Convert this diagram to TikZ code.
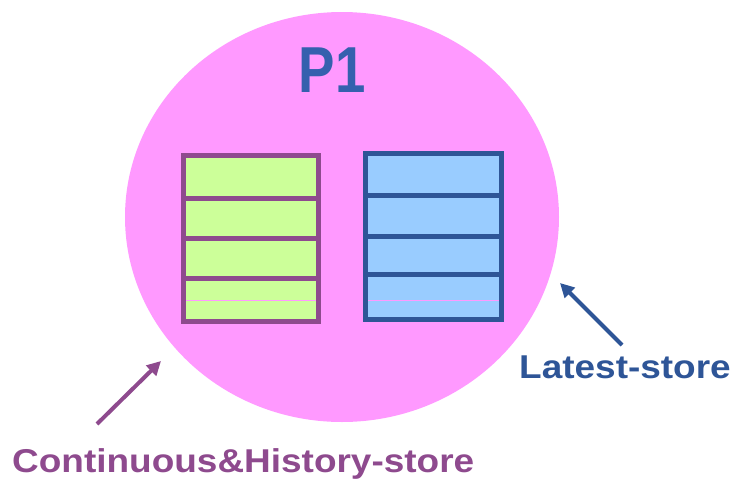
\documentclass[tikz,border=0pt]{standalone}
\usepackage{fontspec}
\setmainfont{Liberation Sans}
\usetikzlibrary{arrows.meta}
\definecolor{pinkbg}{HTML}{FF99FF}
\definecolor{greenfill}{HTML}{CCFF99}
\definecolor{purp}{HTML}{8E4A8E}
\definecolor{bluefill}{HTML}{99CCFF}
\definecolor{blueedge}{HTML}{2E5597}
\definecolor{ptext}{HTML}{3560AE}
\tikzset{
  store/.style={line width=5pt},
  lbl/.style={font=\bfseries\fontsize{33}{33}\selectfont, inner sep=0pt, anchor=base west, xscale=1.12},
  arr/.style={line width=4pt, -{Triangle[length=14pt,width=14pt]}},
}
\begin{document}
\begin{tikzpicture}[x=1pt,y=-1pt]
\useasboundingbox (0,0) rectangle (737,483);
\fill[pinkbg] (342,217) ellipse [x radius=217, y radius=205];
\node[inner sep=0pt, anchor=base, text=ptext, xscale=0.84, font=\bfseries\fontsize{65}{65}\selectfont] (p1) at (332,92.5) {P1};
% green store
\fill[greenfill] (183.5,155.8) rectangle (318,321.5);
\foreach \yy in {198.3,238,278}{\draw[purp,store] (183.5,\yy) -- (318,\yy);}
\draw[pinkbg, line width=1pt] (186,300.3) -- (315.5,300.3);
\draw[purp, store] (183.5,155.8) rectangle (318,321.5);
% blue store
\fill[bluefill] (365.5,153.2) rectangle (501,319.2);
\foreach \yy in {195,236,274}{\draw[blueedge,store] (365.5,\yy) -- (501,\yy);}
\draw[pinkbg, line width=1pt] (368,300.3) -- (498.5,300.3);
\draw[blueedge, store] (365.5,153.2) rectangle (501,319.2);
% labels
\node[lbl, text=purp] (cl) at (12,472.5) {Continuous\&History-store};
\node[lbl, text=blueedge] (ll) at (519,378) {Latest-store};
\coordinate (ct) at (97,424);
\coordinate (ch) at (161,361);
\coordinate (lt) at (622,345);
\coordinate (lh) at (560,283);
\draw[arr, purp] (ct) -- (ch);
\draw[arr, blueedge] (lt) -- (lh);
\end{tikzpicture}
\end{document}
